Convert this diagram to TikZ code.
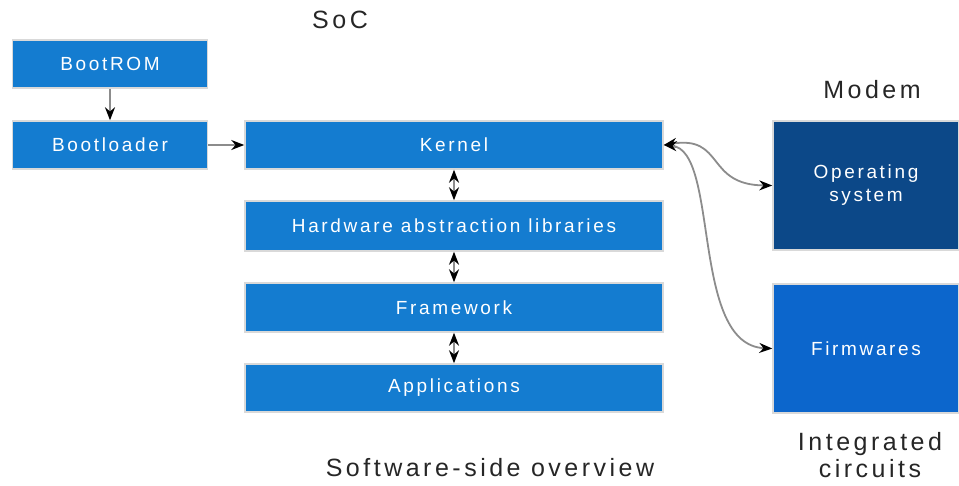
\documentclass[tikz,border=0pt]{standalone}
\usepackage{fontspec}
\setmainfont{Liberation Sans}[LetterSpace=14]
\usetikzlibrary{arrows.meta}
\definecolor{boxblue}{RGB}{20,124,208}
\definecolor{modemblue}{RGB}{12,72,136}
\definecolor{chipblue}{RGB}{12,102,204}
\begin{document}
\begin{tikzpicture}[x=1pt,y=-1pt,>={Stealth[length=13pt,width=10pt,black]},
  blk/.style={fill=boxblue,draw=black!15,line width=1.5pt,text=white,font=\fontsize{19}{23}\selectfont,inner sep=0pt},
  ttl/.style={font=\fontsize{25}{27}\selectfont,text=black!85},
  link/.style={draw=black!45,line width=1.8pt,->},
  both/.style={draw=black!45,line width=1.8pt,<->}]
\useasboundingbox (0,0) rectangle (959,485);
\node[ttl] (soc) at (340,20) {SoC};
\node[ttl] (modem) at (872,90) {Modem};
\node[ttl,align=center] (ic) at (870,455) {Integrated\\circuits};
\node[ttl] (title) at (490,468) {Software-side overview};
\node[blk,minimum width=195pt,minimum height=48pt] (rom) at (110,64) {BootROM};
\node[blk,minimum width=195pt,minimum height=48pt] (boot) at (110,145) {Bootloader};
\node[blk,minimum width=418pt,minimum height=48pt] (kernel) at (454,145) {Kernel};
\node[blk,minimum width=418pt,minimum height=50pt] (hal) at (454,226) {Hardware abstraction libraries};
\node[blk,minimum width=418pt,minimum height=49pt] (fw) at (454,307.5) {Framework};
\node[blk,minimum width=418pt,minimum height=48pt] (apps) at (454,388) {Applications};
\node[blk,fill=modemblue,align=center,minimum width=186pt,minimum height=129pt] (os) at (866,185.5) {Operating\\system};
\node[blk,fill=chipblue,minimum width=186pt,minimum height=129pt] (firm) at (866,348.5) {Firmwares};
\draw[link] (rom) -- (boot);
\draw[link] (boot) -- (kernel);
\draw[both] (kernel) -- (hal);
\draw[both] (hal) -- (fw);
\draw[both] (fw) -- (apps);
\draw[both] (kernel.east) .. controls (725,135) and (705,185) .. (os.west);
\draw[both] (kernel.east) .. controls (720,150) and (690,345) .. (firm.west);
\end{tikzpicture}
\end{document}
